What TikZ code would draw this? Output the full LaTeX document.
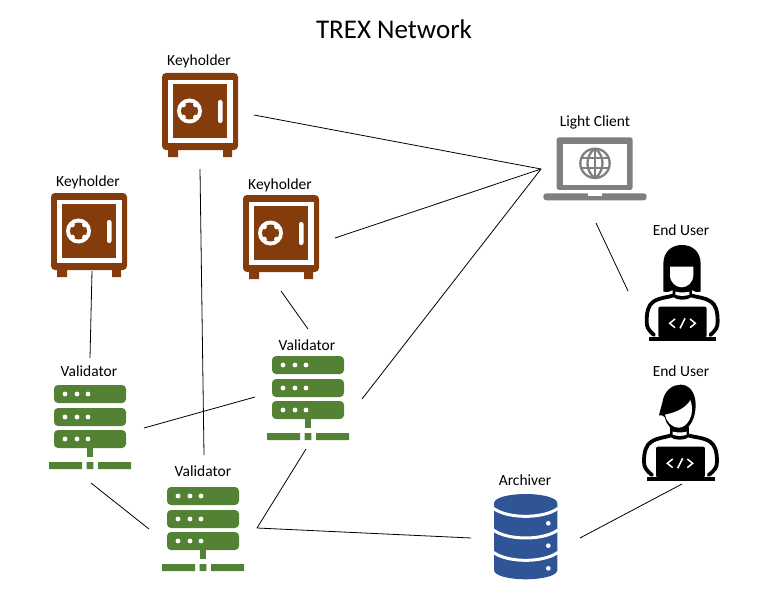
\documentclass[tikz,border=0pt]{standalone}
\usepackage{fontspec}
\setmainfont{Carlito}
\definecolor{safeC}{HTML}{843C0C}
\definecolor{srvC}{HTML}{548235}
\definecolor{dbC}{HTML}{2F5597}
\definecolor{lapC}{HTML}{7F7F7F}
\tikzset{
  lbl/.style={font=\fontsize{15.5}{18}\selectfont,text=black,inner sep=0pt,anchor=base},
  ttl/.style={font=\fontsize{27}{30}\selectfont,text=black,inner sep=0pt,anchor=base},
  link/.style={draw=black,line width=0.8pt},
  safeicon/.pic={
    % origin = top-left of the safe body
    \fill[safeC] (6,74) rectangle (16,84) (61,74) rectangle (70,84);
    \fill[safeC,rounded corners=4pt] (0,0) rectangle (76,77);
    \fill[white] (6,7) rectangle (71,70);
    \fill[safeC] (11,11) rectangle (65,65);
    \fill[white] (27.5,38) circle (12.5);
    \fill[safeC] (27.5,38) circle (8.5);
    \fill[white] (21.3,31.8) circle (2.6) (33.7,31.8) circle (2.6) (21.3,44.2) circle (2.6) (33.7,44.2) circle (2.6);
    \fill[white,rounded corners=2pt] (56,27) rectangle (60.5,50);
  },
  servericon/.pic={
    % origin = centre top
    \foreach \yy in {0,23,45}{
      \fill[srvC,rounded corners=4pt] (-36,\yy) rectangle (36,\yy+18);
      \foreach \xx in {-25,-13,-2}{\fill[white] (\xx,\yy+9) circle (2.4);}
    }
    \fill[srvC] (-3.3,63) rectangle (3.3,72);
    \fill[srvC] (-41,77) rectangle (-8,84) (-3.3,77) rectangle (3.3,84) (8,77) rectangle (41,84);
  }
}
\begin{document}
\begin{tikzpicture}[x=1pt,y=-1pt]
\useasboundingbox (0,0) rectangle (764,610);
\fill[white] (0,0) rectangle (764,610);

% titles and labels
\node[ttl] (title) at (394,38.5) {TREX Network};
\node[lbl] (lk1) at (199,66) {Keyholder};
\node[lbl] (lk2) at (88,186) {Keyholder};
\node[lbl] (lk3) at (280,189) {Keyholder};
\node[lbl] (lv1) at (89,376) {Validator};
\node[lbl] (lv2) at (307,350) {Validator};
\node[lbl] (lv3) at (203,476) {Validator};
\node[lbl] (llc) at (595,126) {Light Client};
\node[lbl] (lu1) at (681,235) {End User};
\node[lbl] (lu2) at (681,376) {End User};
\node[lbl] (lar) at (525,485) {Archiver};

% icons
\pic at (162,73) {safeicon};
\pic at (51,193) {safeicon};
\pic at (243,195) {safeicon};
\pic at (90,385) {servericon};
\pic at (308,356) {servericon};
\pic at (203,487) {servericon};

% laptop
\begin{scope}[shift={(530,110)},x=0.3333pt,y=-0.3333pt]
  \fill[lapC,rounded corners=2.5pt] (80,82) rectangle (308,240);
  \fill[white] (100,103) rectangle (290,225);
  \fill[lapC,rounded corners=3pt] (40,250) rectangle (350,271);
  \fill[white] (175,250) rectangle (215,257);
  \begin{scope}[draw=lapC,line width=2.3pt]
    \draw (195,160) circle (44);
    \draw (195,116) .. controls (165,135) and (165,185) .. (195,204);
    \draw (195,116) .. controls (225,135) and (225,185) .. (195,204);
    \draw (195,116) -- (195,204);
    \draw (154,145) -- (236,145) (154,175) -- (236,175);
  \end{scope}
\end{scope}

% female end user
\begin{scope}[shift={(630,240)},x=0.3333pt,y=-0.3333pt]
  \draw[black,line width=3.8pt,line join=round,line cap=round]
    (72,285) .. controls (55,270) and (50,262) .. (50,245) .. controls (50,215) and (55,195) .. (70,185)
    .. controls (90,172) and (115,172) .. (132,166) .. controls (142,176) and (172,176) .. (182,166)
    .. controls (200,172) and (225,172) .. (243,185) .. controls (258,195) and (263,215) .. (263,245)
    .. controls (263,262) and (258,270) .. (241,285);
  \fill[black] (100,155) -- (100,72) .. controls (100,35) and (125,15) .. (156,15)
    .. controls (187,15) and (212,35) .. (212,72) -- (212,155)
    .. controls (204,158) and (195,156) .. (186,150) -- (186,168) -- (128,168) -- (128,150)
    .. controls (118,156) and (108,158) .. (100,155) -- cycle;
  \fill[white] (120,80) -- (190,80) -- (190,105) .. controls (190,128) and (172,142) .. (155,142)
    .. controls (138,142) and (120,128) .. (120,105) -- cycle;
  \fill[white] (136,155) .. controls (146,158) and (168,158) .. (178,155) -- (178,164) .. controls (168,169) and (146,169) .. (136,164) -- cycle;
  \fill[black,rounded corners=2pt] (85,200) rectangle (230,292);
  \fill[black] (58,292) rectangle (258,303);
  \draw[white,line width=1.5pt] (135,237) -- (119,250) -- (135,263);
  \draw[white,line width=1.5pt] (180,237) -- (196,250) -- (180,263);
  \draw[white,line width=1.5pt] (165,235) -- (150,265);
\end{scope}

% male end user
\begin{scope}[shift={(630,380)},x=0.3333pt,y=-0.3333pt]
  \draw[black,line width=3.8pt,line join=round,line cap=round]
    (66,285) .. controls (48,270) and (42,262) .. (42,245) .. controls (42,215) and (48,195) .. (64,185)
    .. controls (85,172) and (108,172) .. (124,166) .. controls (134,176) and (164,176) .. (174,166)
    .. controls (192,172) and (221,172) .. (240,185) .. controls (255,195) and (261,215) .. (261,245)
    .. controls (261,262) and (255,270) .. (236,285);
  \fill[black] (120,140) -- (120,168) -- (178,168) -- (178,140) -- cycle;
  \fill[black] (87,106) .. controls (92,85) and (97,70) .. (100,55) .. controls (108,28) and (130,14) .. (152,14)
    .. controls (178,14) and (197,38) .. (197,75) .. controls (197,110) and (182,152) .. (148,152)
    .. controls (125,152) and (108,135) .. (105,112) .. controls (100,106) and (94,105) .. (87,106) -- cycle;
  \fill[white] (105,104) .. controls (135,98) and (168,85) .. (181,60)
    .. controls (188,78) and (188,100) .. (180,116) .. controls (172,133) and (160,143) .. (147,143)
    .. controls (125,143) and (109,125) .. (105,104) -- cycle;
  \fill[white] (128,155) .. controls (138,158) and (160,158) .. (170,155) -- (170,164) .. controls (160,169) and (138,169) .. (128,164) -- cycle;
  \fill[black,rounded corners=2pt] (78,200) rectangle (225,292);
  \fill[black] (52,292) rectangle (255,303);
  \draw[white,line width=1.5pt] (128,237) -- (112,250) -- (128,263);
  \draw[white,line width=1.5pt] (172,237) -- (188,250) -- (172,263);
  \draw[white,line width=1.5pt] (158,235) -- (143,265);
\end{scope}

% archiver database
\begin{scope}[shift={(480,480)},x=0.3333pt,y=-0.3333pt]
  \fill[dbC] (42,70) .. controls (42,52) and (90,42) .. (137,42) .. controls (184,42) and (232,52) .. (232,70)
    -- (232,270) .. controls (232,288) and (184,298) .. (137,298) .. controls (90,298) and (42,288) .. (42,270) -- cycle;
  \foreach \yy in {85,150,217}{
    \draw[white,line width=3pt] (40,\yy) .. controls (65,\yy+18) and (105,\yy+24) .. (137,\yy+24)
      .. controls (169,\yy+24) and (209,\yy+18) .. (234,\yy);
  }
  \fill[white] (205,130) circle (7) (205,197) circle (7) (205,265) circle (7);
\end{scope}

% connector end points
\coordinate (k1r) at (254,115);
\coordinate (k1b) at (200,169);
\coordinate (k2b) at (92,271);
\coordinate (k3r) at (335,238);
\coordinate (k3b) at (281,291);
\coordinate (lct) at (541,169);
\coordinate (lcb) at (596,223);
\coordinate (u1l) at (628,291);
\coordinate (u2b) at (682,484);
\coordinate (v1t) at (90,358);
\coordinate (v1r) at (144,428);
\coordinate (v1b) at (91,483);
\coordinate (v2t) at (308,329);
\coordinate (v2l) at (255,397);
\coordinate (v2r) at (362,399);
\coordinate (v2b) at (306,449);
\coordinate (v3t) at (204,455);
\coordinate (v3l) at (149,529);
\coordinate (v3r) at (257,528);
\coordinate (arl) at (471,538);
\coordinate (arr) at (580,538);

% connectors
\draw[link] (k1r) -- (lct);
\draw[link] (k3r) -- (lct);
\draw[link] (v2r) -- (lct);
\draw[link] (lcb) -- (u1l);
\draw[link] (k1b) -- (v3t);
\draw[link] (k2b) -- (v1t);
\draw[link] (k3b) -- (v2t);
\draw[link] (v1r) -- (v2l);
\draw[link] (v1b) -- (v3l);
\draw[link] (v2b) -- (v3r);
\draw[link] (v3r) -- (arl);
\draw[link] (arr) -- (u2b);
\end{tikzpicture}
\end{document}
